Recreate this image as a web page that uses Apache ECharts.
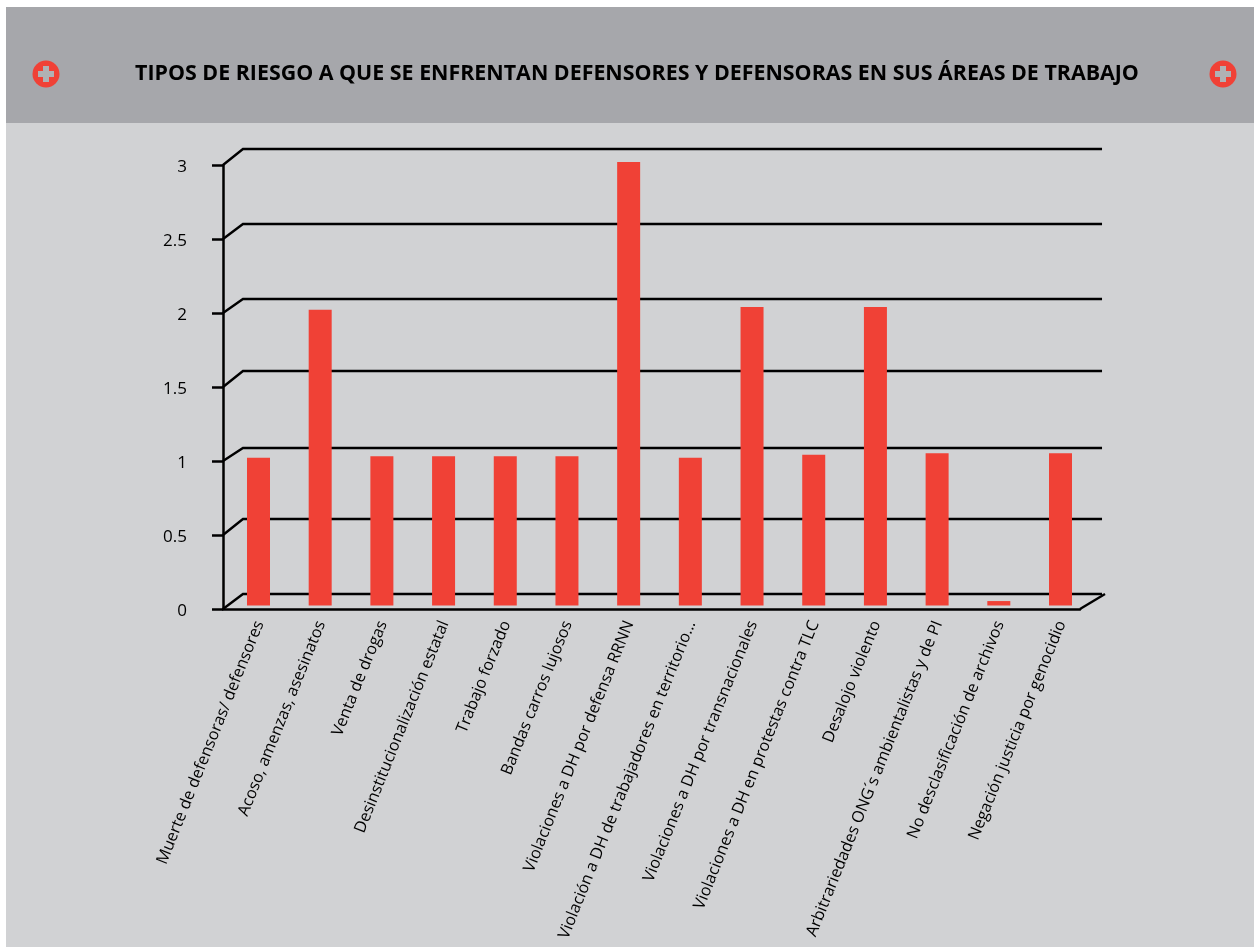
<!DOCTYPE html>
<html><head><meta charset="utf-8">
<style>html,body{margin:0;padding:0;background:#fff}#c{width:1254px;height:947px}</style>
<script src="https://cdn.jsdelivr.net/npm/echarts@6/dist/echarts.min.js"></script>
</head><body><div id="c"></div>
<script>
const titleText = 'TIPOS DE RIESGO A QUE SE ENFRENTAN DEFENSORES Y DEFENSORAS EN SUS ÁREAS DE TRABAJO';
const categories = ['Muerte de defensoras/ defensores','Acoso, amenzas, asesinatos','Venta de drogas','Desinstitucionalización estatal','Trabajo forzado','Bandas carros lujosos','Violaciones a DH por defensa RRNN','Violación a DH de trabajadores en territorio...','Violaciones a DH por transnacionales','Violaciones a DH en protestas contra TLC','Desalojo violento','Arbitrariedades ONG´s ambientalistas y de PI','No desclasificación de archivos','Negación justicia por genocidio'];
const values = [1,2,1.01,1.01,1.01,1.01,3,1,2.02,1.02,2.02,1.03,0.03,1.03];
const tickValues = [0,0.5,1,1.5,2,2.5,3];
const wallLevels = [0.101,0.608,1.088,1.608,2.095,2.601,3.108];
const RED='#f04136', INK='#000', FONT='"Open Sans", "Noto Sans", sans-serif';
const chart = echarts.init(document.getElementById('c'),null,{renderer:'canvas'});
function plus(cx,cy){return [
 {type:'circle',shape:{cx,cy,r:13.5},style:{fill:RED},z:5},
 {type:'rect',shape:{x:cx-8,y:cy-3,width:16,height:6},style:{fill:'#b0b1b4'},z:6},
 {type:'rect',shape:{x:cx-3,y:cy-8,width:6,height:16},style:{fill:'#b0b1b4'},z:6}];}
chart.setOption({
 animation:false,
 backgroundColor:'#fff',
 title:{text:titleText,left:632,top:58,textAlign:'center',textStyle:{color:'#000',fontFamily:FONT,fontWeight:700,fontSize:21.4}},
 graphic:[
  {type:'rect',shape:{x:6,y:7,width:1248,height:940},style:{fill:'#d1d2d4'},z:-10,silent:true},
  {type:'rect',shape:{x:6,y:7,width:1248,height:116},style:{fill:'#a6a7ab'},z:-9,silent:true},
  ...plus(46,74),...plus(1223,74)
 ],
 grid:[
  {left:223,top:165,width:857,height:444},
  {left:227.65,top:162,width:863.7,height:443.5},
  {left:228.65,top:162,width:863.7,height:443.5}
 ],
 xAxis:[
  {gridIndex:0,type:'value',min:0,max:1,axisLabel:{show:false},axisTick:{show:false},splitLine:{show:false},
   axisLine:{show:true,lineStyle:{color:INK,width:2.5}}},
  {gridIndex:1,type:'category',data:categories,axisLine:{show:false},axisTick:{show:false},axisLabel:{show:false}},
  {gridIndex:2,type:'category',data:categories,axisLine:{show:false},axisTick:{show:false},
   axisLabel:{interval:0,rotate:68,margin:16,color:'#000',fontFamily:FONT,fontSize:16.2}}
 ],
 yAxis:[
  {gridIndex:0,type:'value',min:0,max:3,interval:0.5,splitLine:{show:false},
   axisLine:{show:true,lineStyle:{color:INK,width:2.5}},
   axisTick:{show:true,length:11,lineStyle:{color:INK,width:2.5}},
   axisLabel:{margin:36,color:'#000',fontFamily:FONT,fontSize:17,formatter:v=>'{a|'+v+'}',
     rich:{a:{padding:[4,0,0,0],color:'#000',fontFamily:FONT,fontSize:17}}}},
  {gridIndex:1,type:'value',min:0,max:3,show:false},
  {gridIndex:2,type:'value',min:0,max:3,show:false}
 ],
 series:[
  {type:'custom',xAxisIndex:0,yAxisIndex:0,clip:false,z:1,silent:true,
   data:tickValues.map((t,i)=>[t,wallLevels[i]]),
   encode:{x:-1,y:0},
   renderItem(p,api){
     const t=api.value(0),w=api.value(1);
     const a=api.coord([0,t]),b=api.coord([0.0233,w]),c=api.coord([1.0257,w]);
     const st={stroke:INK,lineWidth:2.4,fill:null};
     const kids=[{type:'polyline',shape:{points:[a,b,c]},style:st}];
     if(t===0){kids.push({type:'line',shape:{x1:api.coord([1,0])[0],y1:a[1],x2:api.coord([1.0292,0])[0],y2:b[1]},style:st});}
     return {type:'group',children:kids};
   }},
  {type:'bar',xAxisIndex:1,yAxisIndex:1,data:values,barWidth:23,z:3,itemStyle:{color:RED},silent:true}
 ]
});
</script></body></html>
